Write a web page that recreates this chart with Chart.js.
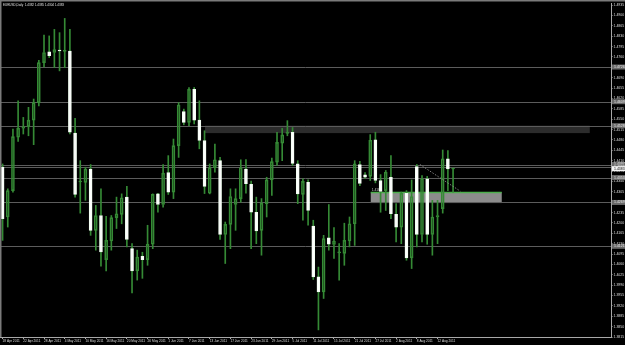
<!DOCTYPE html>
<html><head><meta charset="utf-8">
<script src="https://cdn.jsdelivr.net/npm/chart.js@4.4.0/dist/chart.umd.min.js"></script>
<style>html,body{margin:0;padding:0;background:#000;overflow:hidden}#wrap{width:625px;height:345px;position:relative}</style>
</head><body><div id="wrap"><canvas id="c" width="625" height="345"></canvas></div>
<script>
const titleText = 'EURUSD,Daily  1.4382 1.4385 1.4304 1.4383';
const dateLabels = ['18 Apr 2011','22 Apr 2011','28 Apr 2011','4 May 2011','10 May 2011','16 May 2011','20 May 2011','26 May 2011','1 Jun 2011','7 Jun 2011','13 Jun 2011','17 Jun 2011','23 Jun 2011','29 Jun 2011','5 Jul 2011','11 Jul 2011','15 Jul 2011','21 Jul 2011','27 Jul 2011','2 Aug 2011','8 Aug 2011','12 Aug 2011'];
const labelEvery = 4;
const futureBars = 30;
const openV  = [1.4388,1.4220,1.4309,1.4489,1.4520,1.4525,1.4547,1.4606,1.4741,1.4777,1.4775,1.4783,1.4779,1.4780,1.4503,1.4338,1.4337,1.4382,1.4175,1.4225,1.4076,1.4139,1.4218,1.4229,1.4287,1.4113,1.4038,1.4087,1.4076,1.4128,1.4298,1.4262,1.4370,1.4304,1.4461,1.4576,1.4539,1.4651,1.4547,1.4478,1.4300,1.4386,1.4410,1.4161,1.4195,1.4262,1.4282,1.4382,1.4330,1.4236,1.4175,1.4265,1.4345,1.4405,1.4469,1.4502,1.4506,1.4399,1.4296,1.4337,1.4189,1.4018,1.3967,1.4150,1.4127,1.4099,1.4097,1.4139,1.4197,1.4397,1.4362,1.4357,1.4480,1.4343,1.4309,1.4354,1.4229,1.4186,1.4300,1.4082,1.4390,1.4161,1.4349,1.4161,1.4220,1.4248,1.4416,1.4382];
const highV  = [1.4399,1.4315,1.4517,1.4612,1.4556,1.4590,1.4618,1.4749,1.4834,1.4831,1.4853,1.4842,1.4890,1.4853,1.4553,1.4410,1.4388,1.4397,1.4259,1.4315,1.4222,1.4225,1.4287,1.4298,1.4323,1.4130,1.4108,1.4101,1.4192,1.4298,1.4300,1.4397,1.4427,1.4483,1.4606,1.4584,1.4657,1.4657,1.4612,1.4511,1.4399,1.4466,1.4421,1.4203,1.4315,1.4315,1.4413,1.4414,1.4341,1.4287,1.4282,1.4354,1.4419,1.4506,1.4519,1.4545,1.4522,1.4410,1.4349,1.4345,1.4209,1.4051,1.4158,1.4262,1.4184,1.4130,1.4199,1.4220,1.4410,1.4408,1.4370,1.4498,1.4506,1.4363,1.4377,1.4427,1.4265,1.4304,1.4309,1.4345,1.4397,1.4360,1.4357,1.4276,1.4276,1.4446,1.4444,1.4385];
const lowV   = [1.4141,1.4186,1.4304,1.4475,1.4500,1.4494,1.4464,1.4595,1.4726,1.4758,1.4724,1.4713,1.4724,1.4500,1.4287,1.4233,1.4276,1.4158,1.4108,1.4054,1.4038,1.4108,1.4181,1.4197,1.4119,1.3964,1.4007,1.4013,1.4057,1.4113,1.4236,1.4253,1.4296,1.4282,1.4421,1.4531,1.4528,1.4534,1.4450,1.4299,1.4298,1.4371,1.4144,1.4063,1.4113,1.4175,1.4270,1.4300,1.4113,1.4130,1.4091,1.4220,1.4293,1.4394,1.4410,1.4494,1.4394,1.4265,1.4209,1.4192,1.4009,1.3839,1.3945,1.4108,1.4080,1.4007,1.4057,1.4119,1.4124,1.4326,1.4350,1.4343,1.4335,1.4236,1.4242,1.4214,1.4136,1.4130,1.4074,1.4046,1.4119,1.4136,1.4128,1.4091,1.4130,1.4233,1.4309,1.4304];
const closeV = [1.4214,1.4309,1.4491,1.4520,1.4525,1.4547,1.4606,1.4741,1.4775,1.4764,1.4785,1.4780,1.4781,1.4506,1.4296,1.4340,1.4382,1.4175,1.4225,1.4102,1.4141,1.4218,1.4231,1.4285,1.4144,1.4038,1.4085,1.4076,1.4128,1.4296,1.4262,1.4368,1.4304,1.4461,1.4598,1.4539,1.4651,1.4547,1.4478,1.4323,1.4386,1.4413,1.4161,1.4195,1.4289,1.4282,1.4386,1.4332,1.4236,1.4173,1.4267,1.4345,1.4407,1.4472,1.4497,1.4503,1.4401,1.4298,1.4340,1.4242,1.4018,1.3967,1.4147,1.4128,1.4139,1.4101,1.4141,1.4197,1.4399,1.4333,1.4354,1.4479,1.4343,1.4306,1.4371,1.4231,1.4186,1.4300,1.4082,1.4289,1.4161,1.4349,1.4161,1.4220,1.4225,1.4416,1.4382,1.4383];
const yTicks = [1.3815,1.3850,1.3885,1.3920,1.3955,1.3990,1.4025,1.4060,1.4095,1.4130,1.4165,1.4200,1.4235,1.4270,1.4305,1.4340,1.4375,1.4410,1.4445,1.4480,1.4515,1.4550,1.4585,1.4620,1.4655,1.4690,1.4725,1.4760,1.4795,1.4830,1.4865,1.4900,1.4935];
const yMin = 1.3815, yMax = 1.49417;
const hLines = [1.4726,1.4609,1.4528,1.4397,1.4388,1.4353,1.4269,1.4121];
const bidPrice = 1.4383;
const darkZone = [39.1, 113.4, 1.4503, 1.4528];
const greyZone = [71.1, 96.4, 1.4267, 1.4303];
const greyZoneLabel = '1.4184';
const trendLine = [80.6, 1.4397, 88.4, 1.4307];

const GREEN = '#358a35';
const nBars = openV.length;
const categories = [];
for (let i = 0; i < nBars + futureBars; i++) {
  categories.push(i % labelEvery === 0 && (i / labelEvery) < dateLabels.length ? dateLabels[i / labelEvery] : '');
}
const bodies = openV.map((o, i) => [o, closeV[i]]);
const upperWicks = openV.map((o, i) => [Math.max(o, closeV[i]), highV[i]]);
const lowerWicks = openV.map((o, i) => [lowV[i], Math.min(o, closeV[i])]);
const isBear = openV.map((o, i) => closeV[i] < o);
const FAM = 'Liberation Sans';

const mt4 = {
  id: 'mt4',
  beforeDatasetsDraw(chart) {
    const {ctx, chartArea: a, scales: {x, y}} = chart;
    ctx.save();
    ctx.beginPath(); ctx.rect(a.left, a.top, a.right - a.left, a.bottom - a.top); ctx.clip();
    ctx.fillStyle = '#2c2c2c';
    let x0 = x.getPixelForValue(darkZone[0]), x1 = x.getPixelForValue(darkZone[1]);
    let yt = y.getPixelForValue(darkZone[3]), yb = y.getPixelForValue(darkZone[2]);
    ctx.fillRect(x0, yt, x1 - x0, yb - yt);
    ctx.fillStyle = '#8c8c8c';
    x0 = x.getPixelForValue(greyZone[0]); x1 = x.getPixelForValue(greyZone[1]);
    yt = y.getPixelForValue(greyZone[3]); yb = y.getPixelForValue(greyZone[2]);
    ctx.fillRect(x0, yt, x1 - x0, yb - yt);
    ctx.strokeStyle = '#5c5c5c'; ctx.lineWidth = 1;
    hLines.forEach(p => {
      const py = Math.round(y.getPixelForValue(p)) + 0.5;
      ctx.beginPath(); ctx.moveTo(a.left, py); ctx.lineTo(a.right, py); ctx.stroke();
    });
    ctx.strokeStyle = '#4caf4c'; ctx.lineWidth = 1.5;
    ctx.beginPath(); ctx.moveTo(x0, yt); ctx.lineTo(x1, yt); ctx.stroke();
    ctx.fillStyle = '#cfcfcf';
    ctx.font = '3.2px "' + FAM + '"'; ctx.textBaseline = 'bottom'; ctx.textAlign = 'left';
    ctx.fillText(greyZoneLabel, x0 + 1, yt - 1);
    ctx.restore();
  },
  afterDatasetsDraw(chart) {
    const {ctx, scales: {x, y}} = chart;
    ctx.save();
    ctx.strokeStyle = '#9a9a9a'; ctx.lineWidth = 0.8; ctx.setLineDash([1.5, 1.5]);
    ctx.beginPath();
    ctx.moveTo(x.getPixelForValue(trendLine[0]), y.getPixelForValue(trendLine[1]));
    ctx.lineTo(x.getPixelForValue(trendLine[2]), y.getPixelForValue(trendLine[3]));
    ctx.stroke();
    ctx.restore();
  },
  afterDraw(chart) {
    const {ctx, chartArea: a, scales: {y}} = chart;
    ctx.save();
    ctx.fillStyle = '#7a7a7a';
    ctx.fillRect(0, 0, 625, 1.5);
    ctx.fillRect(0, 0, 1.5, a.bottom);
    ctx.font = '3.5px "' + FAM + '"'; ctx.textBaseline = 'middle'; ctx.textAlign = 'left';
    hLines.forEach(p => {
      const py = y.getPixelForValue(p);
      ctx.fillStyle = '#6a6a6a'; ctx.fillRect(a.right + 1, py - 2.5, 13, 5);
      ctx.fillStyle = '#e8e8e8'; ctx.fillText(p.toFixed(4), a.right + 3, py);
    });
    const by = y.getPixelForValue(bidPrice);
    ctx.fillStyle = '#f4f4f4'; ctx.fillRect(a.right + 1, by - 2.5, 13, 5);
    ctx.fillStyle = '#000'; ctx.fillText(bidPrice.toFixed(4), a.right + 3, by);
    ctx.fillStyle = '#e0e0e0'; ctx.textBaseline = 'top';
    ctx.font = '3px "' + FAM + '"';
    ctx.fillText(titleText, 3, 4);
    ctx.restore();
  }
};

new Chart(document.getElementById('c'), {
  type: 'bar',
  data: {
    labels: categories,
    datasets: [
      {data: bodies, grouped: false, barThickness: 3, minBarLength: 1, borderWidth: 1, borderSkipped: false,
       backgroundColor: isBear.map(b => b ? '#ffffff' : 'rgba(0,0,0,0)'),
       borderColor: isBear.map(b => b ? '#f2fff2' : GREEN)},
      {data: upperWicks, grouped: false, barThickness: 1, borderWidth: 0, backgroundColor: GREEN},
      {data: lowerWicks, grouped: false, barThickness: 1, borderWidth: 0, backgroundColor: GREEN}
    ]
  },
  options: {
    responsive: false, animation: false, events: [],
    layout: {padding: {top: 2, left: 0, right: 0, bottom: 0}},
    plugins: {legend: {display: false}, tooltip: {enabled: false}},
    scales: {
      x: {
        type: 'category', offset: true,
        afterFit: s => { s.height = 8; },
        border: {color: '#a8a8a8', width: 1},
        grid: {drawOnChartArea: false, drawTicks: true, tickLength: 2, offset: false,
               color: c => categories[c.index] ? '#a8a8a8' : 'rgba(0,0,0,0)'},
        ticks: {autoSkip: false, maxRotation: 0, minRotation: 0, align: 'start', padding: 0,
                color: '#dcdcdc', font: {family: FAM, size: 3.2}, callback: (v, i) => categories[i]}
      },
      y: {
        position: 'right', min: yMin, max: yMax,
        afterFit: s => { s.width = 14; },
        afterBuildTicks: s => { s.ticks = yTicks.map(v => ({value: v})); },
        border: {color: '#a8a8a8', width: 1},
        grid: {drawOnChartArea: false, drawTicks: true, tickLength: 1.5, color: '#a8a8a8'},
        ticks: {padding: 1, color: '#dcdcdc', font: {family: FAM, size: 3.5}, callback: v => Number(v).toFixed(4)}
      }
    }
  },
  plugins: [mt4]
});
</script></body></html>
